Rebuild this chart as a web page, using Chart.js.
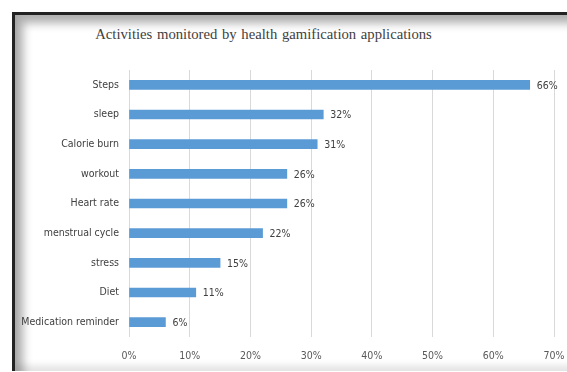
<!DOCTYPE html>
<html>
<head>
<meta charset="utf-8">
<script src="https://cdn.jsdelivr.net/npm/chart.js@4"></script>
<style>
  html, body { margin: 0; padding: 0; background: #fff; }
  #wrap { position: relative; width: 567px; height: 372px; overflow: hidden; }
  #frame {
    position: absolute; left: 12px; top: 12px; width: 570px; height: 356px;
    border-left: 3px solid #222; border-top: 3px solid #222;
    box-shadow: inset 8px 8px 10px rgba(0,0,0,0.32), inset 0 -6px 6px rgba(0,0,0,0.10);
    background: #fff;
  }
  #title {
    position: absolute; left: 0; width: 527px; top: 26px; text-align: center;
    font-family: 'Liberation Serif', 'Times New Roman', serif; font-size: 14.7px;
    color: #404040; word-spacing: 1px; white-space: nowrap;
  }
  canvas { position: absolute; left: 0; top: 0; }
</style>
</head>
<body>
<div id="wrap">
  <div id="frame"></div>
  <div id="title">Activities monitored by health gamification applications</div>
  <canvas id="myBarChart" width="567" height="372"></canvas>
</div>
<script>
  var activities = ['Steps', 'sleep', 'Calorie burn', 'workout', 'Heart rate', 'menstrual cycle', 'stress', 'Diet', 'Medication reminder'];
  var shares = [66, 32, 31, 26, 26, 22, 15, 11, 6];
  var tickLabels = ['0%', '10%', '20%', '30%', '40%', '50%', '60%', '70%'];

  var labelFont = "'DejaVu Sans Condensed', sans-serif";

  // value labels at the end of each bar
  var valueLabels = {
    id: 'valueLabels',
    afterDatasetsDraw: function (chart) {
      var ctx = chart.ctx;
      var meta = chart.getDatasetMeta(0);
      ctx.save();
      ctx.font = '10.5px ' + labelFont;
      ctx.fillStyle = '#404040';
      ctx.textAlign = 'left';
      ctx.textBaseline = 'middle';
      meta.data.forEach(function (bar, i) {
        ctx.fillText(shares[i] + '%', bar.x + 7, bar.y + 1);
      });
      ctx.restore();
    }
  };

  var data = {
    labels: activities,
    datasets: [{
      data: shares,
      backgroundColor: '#5B9BD5',
      borderWidth: 0,
      barThickness: 9
    }]
  };

  var options = {
    indexAxis: 'y',
    responsive: false,
    animation: false,
    layout: { padding: { left: 0, right: 13, top: 70, bottom: 0 } },
    scales: {
      x: {
        min: 0,
        max: 70,
        afterFit: function (s) { s.height = 35; s.paddingRight = 0; s.paddingLeft = 0; },
        border: { display: false },
        grid: { color: '#d9d9d9', drawTicks: false },
        ticks: {
          stepSize: 10,
          padding: 13,
          color: '#595959',
          font: { family: labelFont, size: 10.5 },
          callback: function (v, i) { return tickLabels[i]; }
        }
      },
      y: {
        afterFit: function (s) { s.width = 129; s.paddingTop = 0; s.paddingBottom = 0; },
        border: { display: false },
        grid: { display: false, drawTicks: false },
        ticks: {
          padding: 10,
          color: '#404040',
          font: { family: labelFont, size: 10.5 }
        }
      }
    },
    plugins: {
      legend: { display: false },
      tooltip: { enabled: false }
    }
  };

  var ctx = document.getElementById('myBarChart').getContext('2d');
  var myBarChart = new Chart(ctx, {
    type: 'bar',
    data: data,
    options: options,
    plugins: [valueLabels]
  });
</script>
</body>
</html>
